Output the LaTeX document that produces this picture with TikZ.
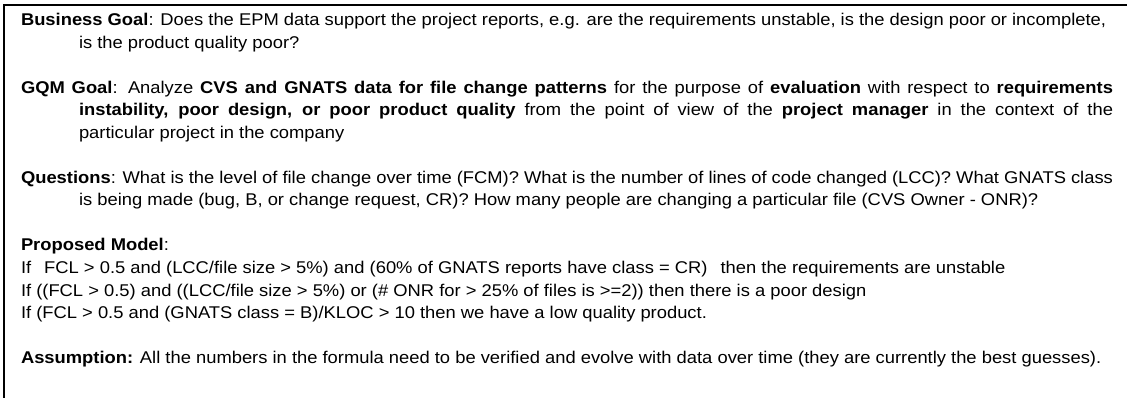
\documentclass[tikz,border=0pt]{standalone}
\usepackage{fontspec}
\setmainfont{Liberation Sans}[FakeStretch=1.08]
\begin{document}
\begin{tikzpicture}[x=1pt,y=-1pt,
  txt/.style={anchor=base west,inner sep=0pt,outer sep=0pt,font=\fontsize{17}{20}\selectfont},
  frame/.style={line width=1.4pt,draw=black}]
\useasboundingbox (0,0) rectangle (1127,398);
% open frame: left and top edges
\coordinate (fb) at (4,398);
\coordinate (fc) at (4,5);
\coordinate (fr) at (1127,5);
\draw[frame] (fb) -- (fc) -- (fr);
% business goal
\node[txt] (bg1) at (21,26) {\textbf{Business Goal}: Does the EPM data support the project reports, e.g. are the requirements unstable, is the design poor or incomplete,};
\node[txt] (bg2) at (79,48.5) {is the product quality poor?};
% GQM goal
\node[txt] (gq1) at (21,93.5) {\makebox[1092pt][s]{\textbf{GQM Goal}: Analyze \textbf{CVS and GNATS data for file change patterns} for the purpose of \textbf{evaluation} with respect to \textbf{requirements}}};
\node[txt] (gq2) at (79,116) {\makebox[1034pt][s]{\textbf{instability, poor design, or poor product quality} from the point of view of the \textbf{project manager} in the context of the}};
\node[txt] (gq3) at (79,138.5) {particular project in the company};
% questions
\node[txt] (q1) at (21,183.5) {\makebox[1092pt][s]{\textbf{Questions}: What is the level of file change over time (FCM)? What is the number of lines of code changed (LCC)? What GNATS class}};
\node[txt] (q2) at (79,206) {is being made (bug, B, or change request, CR)? How many people are changing a particular file (CVS Owner - ONR)?};
% proposed model
\node[txt] (pm) at (21,251) {\textbf{Proposed Model}:};
\node[txt] (r1) at (21,273.5) {If\hspace{13pt}FCL > 0.5 and (LCC/file size > 5\%) and (60\% of GNATS reports have class = CR)\hspace{13pt}then the requirements are unstable};
\node[txt] (r2) at (21,296) {If ((FCL > 0.5) and ((LCC/file size > 5\%) or (\# ONR for > 25\% of files is >=2)) then there is a poor design};
\node[txt] (r3) at (21,318.5) {If (FCL > 0.5 and (GNATS class = B)/KLOC > 10 then we have a low quality product.};
% assumption
\node[txt] (as) at (21,363.5) {\textbf{Assumption:} All the numbers in the formula need to be verified and evolve with data over time (they are currently the best guesses).};
\end{tikzpicture}
\end{document}
